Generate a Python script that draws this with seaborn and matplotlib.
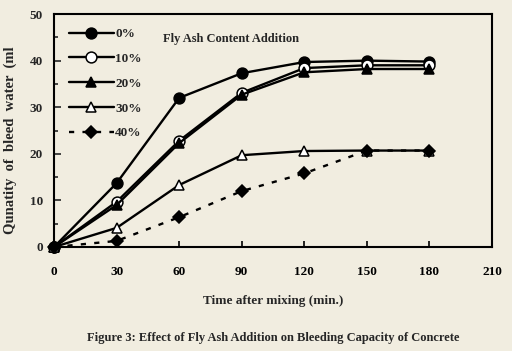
import matplotlib
matplotlib.use("Agg")
import matplotlib.pyplot as plt
import seaborn as sns
import pandas as pd
from matplotlib.ticker import MultipleLocator

time_min = [0, 30, 60, 90, 120, 150, 180]
fa_0 = [0, 13.7, 32.0, 37.3, 39.7, 40.0, 39.8]
fa_10 = [0, 9.7, 22.8, 33.1, 38.4, 39.0, 39.0]
fa_20 = [0, 9.0, 22.3, 32.7, 37.5, 38.2, 38.2]
fa_30 = [0, 4.1, 13.3, 19.7, 20.6, 20.7, 20.7]
fa_40 = [0, 1.3, 6.4, 12.0, 15.8, 20.7, 20.7]
series_labels = ["0%", "10%", "20%", "30%", "40%"]
x_ticks = [0, 30, 60, 90, 120, 150, 180, 210]
y_ticks = [0, 10, 20, 30, 40, 50]

sns.set_theme(style="ticks")
bg = "#F1EDE0"
plt.rcParams["font.family"] = ["Liberation Serif", "DejaVu Serif"]
plt.rcParams["font.weight"] = "bold"

fig = plt.figure(figsize=(5.12, 3.51), dpi=100, facecolor=bg)
ax = fig.add_axes([0.1055, 0.2963, 0.8555, 0.6637])
ax.set_facecolor(bg)

styles = [
    dict(marker="o", mfc="black", ls="-"),
    dict(marker="o", mfc="white", ls="-"),
    dict(marker="^", mfc="black", ls="-"),
    dict(marker="^", mfc="white", ls="-"),
    dict(marker="D", mfc="black", ls=(0, (2.2, 3.5))),
]
all_series = [fa_0, fa_10, fa_20, fa_30, fa_40]
for vals, lab, st in zip(all_series, series_labels, styles):
    df = pd.DataFrame({"t": time_min, "v": vals})
    ms = 7.8 if st["marker"] != "D" else 6.5
    sns.lineplot(data=df, x="t", y="v", ax=ax, color="black", lw=1.7,
                 linestyle=st["ls"], marker=st["marker"], markersize=ms,
                 markerfacecolor=st["mfc"], markeredgecolor="black",
                 markeredgewidth=1.1, label=lab, clip_on=False)

ax.set_xlim(0, 210)
ax.set_ylim(0, 50)
ax.set_xticks(x_ticks)
ax.set_yticks(y_ticks)
ax.yaxis.set_minor_locator(MultipleLocator(5))
ax.tick_params(axis="x", direction="in", length=4, width=1.2, pad=14,
               labelsize=9.5, colors="black")
ax.tick_params(axis="y", which="major", direction="in", length=5, width=1.2,
               pad=8, labelsize=9.5)
ax.tick_params(axis="y", which="minor", direction="in", length=3, width=1.2)
for lbl in ax.get_xticklabels() + ax.get_yticklabels():
    lbl.set_fontweight("bold")
for sp in ax.spines.values():
    sp.set_visible(True)
    sp.set_linewidth(1.5)
    sp.set_color("black")

ax.set_xlabel("Time after mixing (min.)", fontsize=9.5, fontweight="bold", labelpad=12)
ax.set_ylabel("Qunatity  of  bleed  water  (ml", fontsize=10.5, fontweight="bold")
ax.yaxis.set_label_coords(-0.085, 0.46)

leg = ax.legend(loc="upper left", frameon=False, fontsize=9.5, handlelength=3.4,
                handletextpad=0.1, labelspacing=0.95, borderaxespad=0.4,
                bbox_to_anchor=(0.01, 0.985))
for t in leg.get_texts():
    t.set_fontweight("bold")

ax.text(0.248, 0.895, "Fly Ash Content Addition", transform=ax.transAxes,
        fontsize=9, fontweight="bold", ha="left", va="center")

fig.text(0.533, 0.037, "Figure 3: Effect of Fly Ash Addition on Bleeding Capacity of Concrete",
         fontsize=9, fontweight="bold", ha="center", va="center")

fig.savefig("out.png", dpi=100, facecolor=bg)
